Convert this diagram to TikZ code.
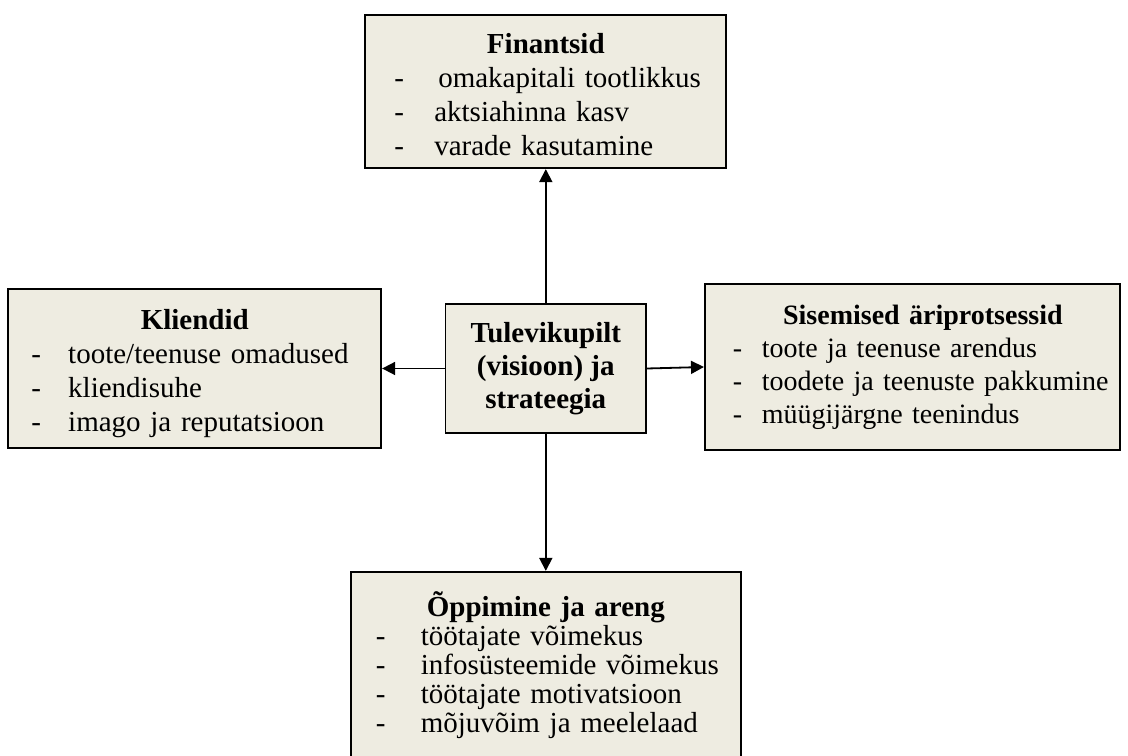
\documentclass[tikz,border=0pt]{standalone}
\usepackage{fontspec}
\setmainfont{Liberation Serif}
\usepackage{tikz}
\usetikzlibrary{arrows.meta,positioning}
\definecolor{boxfill}{HTML}{EEECE1}
\newcommand{\itm}[3]{\hspace*{#1}\makebox[#2][l]{-}\mbox{#3}}

\begin{document}
\begin{tikzpicture}[
  node distance=30pt,
  box/.style={draw=black,fill=boxfill,line width=0.9pt,inner sep=0pt,align=left,font=\fontsize{14.5pt}{17pt}\selectfont},
  >={Triangle[length=6.5pt,width=6.5pt]}]
  \useasboundingbox (0,0) rectangle (564pt,377.5pt);

  \node[box,align=center,font=\bfseries\fontsize{14.5pt}{16.5pt}\selectfont,minimum width=100.25pt,minimum height=64.5pt] (vis) at (272.9pt,193.25pt) {Tulevikupilt\\(visioon) ja\\strateegia};

  \node[box,text width=180.5pt,minimum height=76.5pt,above=67pt of vis] (fin) {\makebox[\linewidth]{\rule{0pt}{13pt}\textbf{Finantsid}}\\
    \itm{14.5pt}{22pt}{omakapitali tootlikkus}\\
    \itm{14.5pt}{20pt}{aktsiahinna kasv}\\
    \itm{14.5pt}{20pt}{varade kasutamine}};

  \node[box,text width=186.5pt,minimum height=79.5pt,left=31.25pt of vis] (kli) {\makebox[\linewidth]{\rule{0pt}{15pt}\textbf{Kliendid}}\\
    \itm{11.5pt}{18.5pt}{toote/teenuse omadused}\\
    \itm{11.5pt}{18.5pt}{kliendisuhe}\\
    \itm{11.5pt}{18.5pt}{imago ja reputatsioon}};

  \node[box,font=\fontsize{14pt}{16.5pt}\selectfont,text width=207.5pt,minimum height=83pt,right=28.5pt of vis,yshift=0.75pt] (sis) {\makebox[\linewidth]{\hspace{10.5pt}\textbf{Sisemised äriprotsessid}}\\
    \itm{14pt}{14.5pt}{toote ja teenuse arendus}\\
    \itm{14pt}{14.5pt}{toodete ja teenuste pakkumine}\\
    \itm{14pt}{14.5pt}{müügijärgne teenindus}};

  \node[box,font=\fontsize{14.5pt}{14.5pt}\selectfont,text width=195pt,minimum height=93.5pt,below=68.5pt of vis] (opp) {\makebox[\linewidth]{\textbf{Õppimine ja areng}}\\
    \itm{12.5pt}{22.5pt}{töötajate võimekus}\\
    \itm{12.5pt}{22.5pt}{infosüsteemide võimekus}\\
    \itm{12.5pt}{22.5pt}{töötajate motivatsioon}\\
    \itm{12.5pt}{22.5pt}{mõjuvõim ja meelelaad}};

  \draw[->,line width=0.9pt] (vis.north)--(fin.south);
  \draw[->,line width=0.9pt] (vis.west)--(kli.east);
  \draw[->,line width=0.9pt] (vis.east)--(sis.west);
  \draw[->,line width=0.9pt] (vis.south)--(opp.north);

\end{tikzpicture}
\end{document}
